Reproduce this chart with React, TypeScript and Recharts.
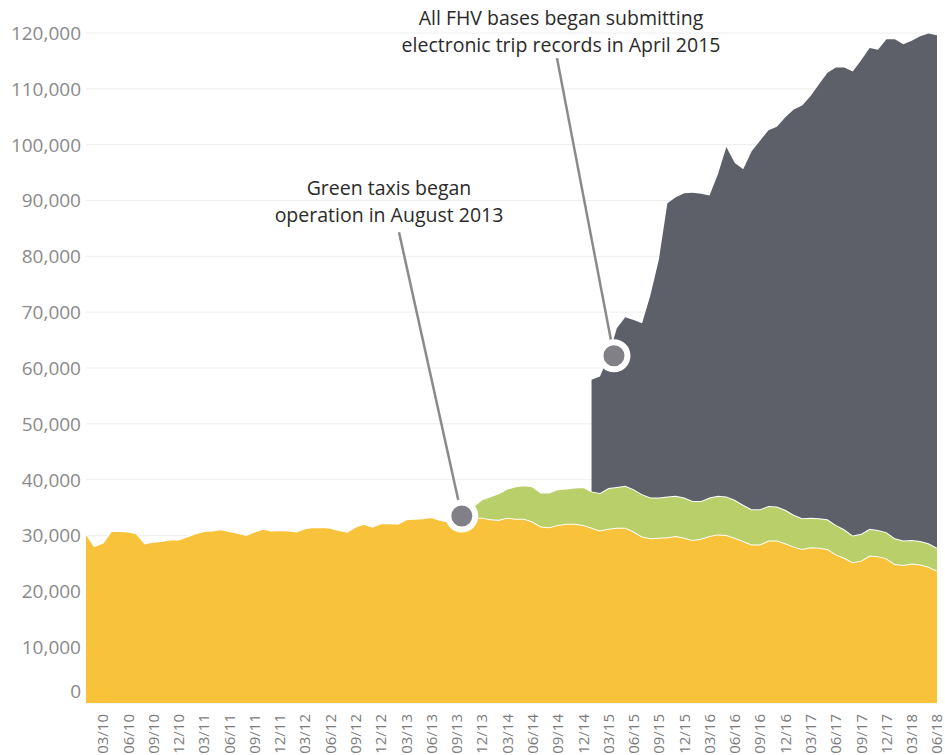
import React from "react";
import {
  AreaChart,
  Area,
  XAxis,
  YAxis,
  CartesianGrid,
  ReferenceLine,
  ReferenceDot,
} from "recharts";

const months = [
  "01/10", "02/10", "03/10", "04/10", "05/10", "06/10", "07/10", "08/10", "09/10", "10/10", "11/10", "12/10",
  "01/11", "02/11", "03/11", "04/11", "05/11", "06/11", "07/11", "08/11", "09/11", "10/11", "11/11", "12/11",
  "01/12", "02/12", "03/12", "04/12", "05/12", "06/12", "07/12", "08/12", "09/12", "10/12", "11/12", "12/12",
  "01/13", "02/13", "03/13", "04/13", "05/13", "06/13", "07/13", "08/13", "09/13", "10/13", "11/13", "12/13",
  "01/14", "02/14", "03/14", "04/14", "05/14", "06/14", "07/14", "08/14", "09/14", "10/14", "11/14", "12/14",
  "01/15", "02/15", "03/15", "04/15", "05/15", "06/15", "07/15", "08/15", "09/15", "10/15", "11/15", "12/15",
  "01/16", "02/16", "03/16", "04/16", "05/16", "06/16", "07/16", "08/16", "09/16", "10/16", "11/16", "12/16",
  "01/17", "02/17", "03/17", "04/17", "05/17", "06/17", "07/17", "08/17", "09/17", "10/17", "11/17", "12/17",
  "01/18", "02/18", "03/18", "04/18", "05/18", "06/18",
];

const tickLabels = [
  "03/10", "06/10", "09/10", "12/10", "03/11", "06/11", "09/11", "12/11",
  "03/12", "06/12", "09/12", "12/12", "03/13", "06/13", "09/13", "12/13",
  "03/14", "06/14", "09/14", "12/14", "03/15", "06/15", "09/15", "12/15",
  "03/16", "06/16", "09/16", "12/16", "03/17", "06/17", "09/17", "12/17",
  "03/18", "06/18",
];

const yTicks = [0, 10000, 20000, 30000, 40000, 50000, 60000, 70000, 80000, 90000, 100000, 110000, 120000];

// daily trips, yellow taxis (from 01/10)
const yellowTrips = [
  30400, 28100, 28700, 30800, 30800, 30700, 30400, 28600, 28900, 29000, 29300, 29300,
  29800, 30400, 30800, 30900, 31100, 30800, 30500, 30100, 30700, 31200, 30900, 31000,
  30900, 30700, 31300, 31500, 31500, 31400, 31000, 30700, 31600, 32100, 31600, 32200,
  32200, 32100, 32900, 33000, 33100, 33300, 32800, 32500, 32600, 32900, 33200, 33200,
  32900, 32800, 33200, 33000, 33000, 32500, 31600, 31500, 31900, 32100, 32100, 31900,
  31400, 30900, 31200, 31400, 31400, 30700, 29800, 29500, 29600, 29700, 29900, 29600,
  29200, 29400, 29900, 30200, 30100, 29600, 29000, 28400, 28400, 29100, 29100, 28600,
  28000, 27600, 27900, 27800, 27600, 26600, 26000, 25200, 25500, 26400, 26300, 25900,
  24900, 24700, 25000, 24800, 24400, 23700,
];

// green taxis
const greenStart = "09/13";
const greenTrips = [
  700, 1400, 2100, 3300, 4100, 4800, 5200, 5800, 6000, 6300, 6100, 6200,
  6400, 6300, 6500, 6800, 6500, 6700, 7300, 7300, 7500, 7600, 7600, 7300,
  7200, 7300, 7200, 7200, 7000, 6800, 6900, 6900, 6900, 6800, 6500, 6300,
  6300, 6200, 6100, 6000, 5700, 5500, 5300, 5300, 5300, 5300, 5100, 4800,
  4800, 4800, 4700, 4700, 4600, 4400, 4200, 4200, 4200, 4100,
];

// for-hire vehicle bases
const fhvStart = "01/15";
const fhvTrips = [
  20000, 20900, 23500, 28400, 30200, 30300, 30600, 36300, 42700, 52500, 53500, 54500,
  55200, 55000, 54100, 57600, 62600, 60300, 60100, 64100, 66000, 67300, 68000, 70300,
  72600, 73900, 75500, 77700, 80000, 81900, 82700, 83100, 84800, 86100, 86000, 88300,
  89400, 88900, 89400, 90400, 91300, 91800,
];

const gIdx = months.indexOf(greenStart);
const fIdx = months.indexOf(fhvStart);

const data = months.map((m, i) => ({
  i,
  month: m,
  yellow: yellowTrips[i],
  green: i >= gIdx ? greenTrips[i - gIdx] : null,
  fhv: i >= fIdx ? fhvTrips[i - fIdx] : null,
}));

const FONT = "'Open Sans', 'Noto Sans', sans-serif";

const XTick = (props: any) => {
  const { x, y, payload } = props;
  return (
    <text
      x={0}
      y={0}
      transform={`translate(${x},${y + 3}) rotate(-90)`}
      textAnchor="end"
      dy="0.36em"
      fill="#7b7b7b"
      fontSize={15}
      fontFamily={FONT}
    >
      {months[payload.value]}
    </text>
  );
};

const YTick = (props: any) => {
  const { x, y, payload } = props;
  return (
    <text
      x={x}
      y={payload.value === 0 ? y - 12 : y}
      textAnchor="end"
      dy="0.36em"
      fill="#8a8a8a"
      fontSize={19}
      fontFamily={FONT}
    >
      {payload.value.toLocaleString("en-US")}
    </text>
  );
};

const noteStyle: React.CSSProperties = {
  position: "absolute",
  transform: "translateX(-50%)",
  whiteSpace: "nowrap",
  fontFamily: FONT,
  fontSize: 19.5,
  color: "#2a2a2a",
  lineHeight: "27px",
  textAlign: "center",
};

export default function App() {
  return (
    <div style={{ position: "absolute", left: 0, top: 0, width: 945, height: 755, background: "#fff" }}>
      <AreaChart
        width={945}
        height={755}
        data={data}
        margin={{ top: 33, right: 8, bottom: 0, left: 0 }}
      >
        <CartesianGrid vertical={false} stroke="#eeeeee" />
        <XAxis
          dataKey="i"
          type="number"
          domain={[0, months.length - 1]}
          ticks={tickLabels.map((t) => months.indexOf(t))}
          interval={0}
          height={52}
          axisLine={false}
          tickLine={false}
          tick={<XTick />}
        />
        <YAxis
          domain={[0, 120000]}
          ticks={yTicks}
          width={86}
          axisLine={false}
          tickLine={false}
          tickSize={0}
          tickMargin={5}
          tick={<YTick />}
        />
        <Area
          type="linear"
          dataKey="yellow"
          stackId="trips"
          fill="#F8C23A"
          fillOpacity={1}
          stroke="#ffffff"
          strokeWidth={2}
          isAnimationActive={false}
        />
        <Area
          type="linear"
          dataKey="green"
          stackId="trips"
          fill="#B9CF69"
          fillOpacity={1}
          stroke="#ffffff"
          strokeWidth={2}
          isAnimationActive={false}
        />
        <Area
          type="linear"
          dataKey="fhv"
          stackId="trips"
          fill="#5D6069"
          fillOpacity={1}
          stroke="none"
          isAnimationActive={false}
        />
        <ReferenceLine
          segment={[{ x: 37.15, y: 84300 }, { x: 44.6, y: 33500 }]}
          stroke="#8a8a8a"
          strokeWidth={2.5}
        />
        <ReferenceLine
          segment={[{ x: 55.9, y: 115500 }, { x: 62.66, y: 62200 }]}
          stroke="#8a8a8a"
          strokeWidth={2.5}
        />
        <ReferenceDot x={44.6} y={33500} r={13.5} fill="#808086" stroke="#ffffff" strokeWidth={6} />
        <ReferenceDot x={62.66} y={62200} r={13.5} fill="#808086" stroke="#ffffff" strokeWidth={6} />
      </AreaChart>
      <div style={{ ...noteStyle, left: 561, top: 4 }}>
        All FHV bases began submitting
        <br />
        electronic trip records in April 2015
      </div>
      <div style={{ ...noteStyle, left: 389, top: 174 }}>
        Green taxis began
        <br />
        operation in August 2013
      </div>
    </div>
  );
}
